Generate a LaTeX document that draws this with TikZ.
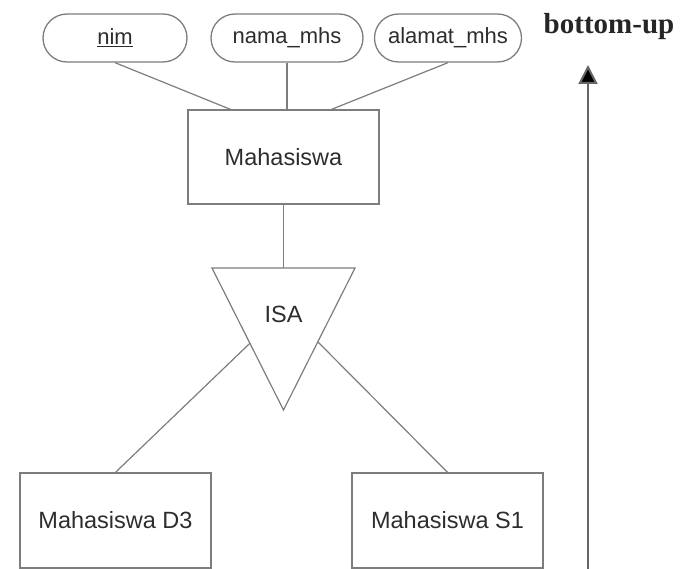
\documentclass[tikz,border=0pt]{standalone}
\usepackage{fontspec}
\setmainfont{Liberation Sans}
\newfontfamily\titlefont{Liberation Serif}
\usetikzlibrary{arrows.meta,calc}

\definecolor{edgegray}{RGB}{125,125,125}
\definecolor{textgray}{RGB}{45,45,45}

\tikzset{
  entity/.style={draw=edgegray, line width=1.3pt, text=textgray,
    minimum width=191pt, minimum height=95pt, inner sep=0pt,
    font=\fontsize{23.5}{26}\selectfont},
  attr/.style={draw=edgegray, line width=1.3pt, text=textgray,
    rounded corners=24pt, minimum height=48pt, inner sep=0pt,
    font=\fontsize{22}{24}\selectfont},
  link/.style={draw=edgegray, line width=1.2pt}
}

\begin{document}
\begin{tikzpicture}[x=1pt, y=-1pt]
    \useasboundingbox (0,0) rectangle (699,569);

    % Draw attributes
    \node[attr, minimum width=144pt] (nim) at (115,38) {\underline{nim}};
    \node[attr, minimum width=152pt] (nama) at (287,38) {nama\_mhs};
    \node[attr, minimum width=147pt] (alamat) at (448,38) {alamat\_mhs};

    % Draw entities
    \node[entity, minimum height=94pt] (mhs) at (283.5,157) {Mahasiswa};
    \node[entity] (d3) at (115.5,520.5) {Mahasiswa D3};
    \node[entity] (s1) at (447.5,520.5) {Mahasiswa S1};

    % Draw ISA triangle
    \coordinate (tl) at (212,268);
    \coordinate (tr) at (355,268);
    \coordinate (ap) at (283.5,410);
    \draw[link, line join=miter] (tl) -- (tr) -- (ap) -- cycle;
    \node[text=textgray, font=\fontsize{23.5}{26}\selectfont] (isa) at (283.5,314) {ISA};
    \coordinate (isaL) at ($(tl)!0.53!(ap)$);
    \coordinate (isaR) at ($(tr)!0.52!(ap)$);
    \coordinate (isaT) at (283.5,268);

    % Draw connectors
    \draw[link] (nim.south) -- (232,110);
    \draw[link] (nama.south) -- (mhs.north -| nama.south);
    \draw[link] (alamat.south) -- (330,110);
    \draw[link] (mhs.south) -- (isaT);
    \draw[link] (isaL) -- (d3.north);
    \draw[link] (isaR) -- (s1.north);

    % Draw direction arrow
    \coordinate (arrbot) at (588,569);
    \node[font=\titlefont\bfseries\fontsize{29}{32}\selectfont, text=black!85] (title) at (609,27) {bottom-up};
    \coordinate (arrtop) at (588,65);
    \draw[draw=gray!80!black, line width=2pt, -{Triangle[length=19pt, width=19pt, fill=black]}] (arrbot) -- (arrtop);

\end{tikzpicture}
\end{document}
